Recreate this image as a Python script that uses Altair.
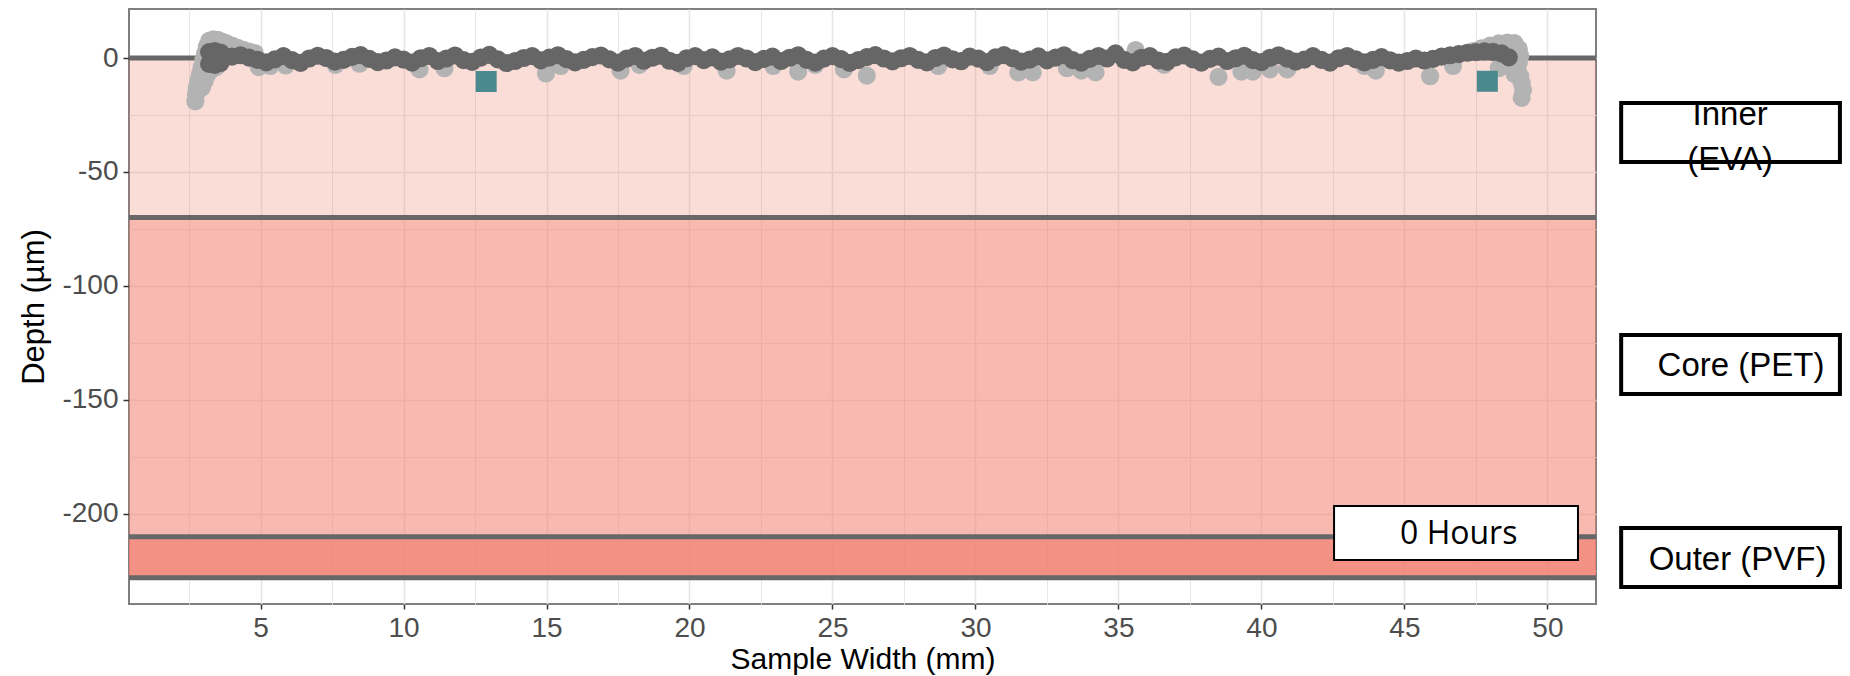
import altair as alt
import pandas as pd

# ---------------- data ----------------
x_major = [5, 10, 15, 20, 25, 30, 35, 40, 45, 50]
x_minor = [2.5, 7.5, 12.5, 17.5, 22.5, 27.5, 32.5, 37.5, 42.5, 47.5]
y_major = [0, -50, -100, -150, -200]
y_minor = [-25, -75, -125, -175, -225]

layer_top = [0, -70, -210]
layer_bottom = [-70, -210, -228]
layer_alpha = [0.27, 0.55, 0.86]
boundary_depth = [0, -70, -210, -228]

dark_x = [3.2, 3.2, 3.4, 3.4, 3.6, 3.6,
          4.0, 4.3, 4.6, 4.9, 5.2, 5.5, 5.8, 6.1, 6.4, 6.7,
          7.0, 7.3, 7.6, 7.9, 8.2, 8.5, 8.8, 9.1, 9.4, 9.7,
          10.0, 10.3, 10.6, 10.9, 11.2, 11.5, 11.8, 12.1, 12.4, 12.7,
          13.0, 13.3, 13.6, 13.9, 14.2, 14.5, 14.8, 15.1, 15.4, 15.7,
          16.0, 16.3, 16.6, 16.9, 17.2, 17.5, 17.8, 18.1, 18.4, 18.7,
          19.0, 19.3, 19.6, 19.9, 20.2, 20.5, 20.8, 21.1, 21.4, 21.7,
          22.0, 22.3, 22.6, 22.9, 23.2, 23.5, 23.8, 24.1, 24.4, 24.7,
          25.0, 25.3, 25.6, 25.9, 26.2, 26.5, 26.8, 27.1, 27.4, 27.7,
          28.0, 28.3, 28.6, 28.9, 29.2, 29.5, 29.8, 30.1, 30.4, 30.7,
          31.0, 31.3, 31.6, 31.9, 32.2, 32.5, 32.8, 33.1, 33.4, 33.7,
          34.0, 34.3, 34.6, 34.9, 35.2, 35.5, 35.8, 36.1, 36.4, 36.7,
          37.0, 37.3, 37.6, 37.9, 38.2, 38.5, 38.8, 39.1, 39.4, 39.7,
          40.0, 40.3, 40.6, 40.9, 41.2, 41.5, 41.8, 42.1, 42.4, 42.7,
          43.0, 43.3, 43.6, 43.9, 44.2, 44.5, 44.8, 45.1, 45.4, 45.7,
          46.0, 46.3, 46.6, 46.9, 47.2, 47.5, 47.8, 48.1, 48.4, 48.65]
dark_y = [2.6, -2.6, 3.0, -3.0, 2.4, -2.2,
          0.6, 1.2, 0.2, -0.8, -1.9, -0.6, 0.8, -0.9, -2.1, -0.2,
          1.0, 0.0, -1.6, -0.8, 0.5, 1.3, -0.4, -1.8, -1.1, 0.3,
          -0.7, -2.0, -0.1, 0.9, -1.3, -0.2, 1.1, -0.9, -1.7, 0.2,
          1.4, -0.6, -2.2, -1.3, 0.0, 0.8, -1.0, 0.2, 1.2, -0.5,
          -1.9, -0.8, 0.4, 1.1, -0.6, -2.0, -0.3, 0.9, -1.2, 0.1,
          1.0, -1.2, -2.1, -0.1, 0.8, -0.9, 0.3, -1.6, -0.6, 0.9,
          -0.2, -1.8, -0.4, 0.6, -1.3, 0.1, 1.2, -0.8, -2.0, -0.3,
          0.8, -0.5, -2.1, -0.9, 0.4, 1.3, -0.2, -1.5, -0.1, 0.9,
          -0.8, -1.9, 0.0, 1.1, -0.6, -1.4, 0.6, -0.3, -1.8, 0.3,
          1.3, -0.1, -1.6, -0.7, 0.7, -1.0, 0.2, 1.2, -0.9, -2.0,
          -0.4, 0.9, -0.2, 2.0, -0.8, -1.9, 0.1, 0.8, -1.1, -1.7,
          0.3, 1.1, -0.6, -2.0, -0.4, 0.6, -1.3, -0.1, 1.0, -0.9,
          -1.8, 0.1, 1.2, -0.3, -1.6, -0.7, 0.8, -0.8, -2.0, -0.1,
          0.9, -0.6, -1.9, -0.8, 0.4, -1.0, -2.0, -1.3, -0.2, -1.1,
          -0.4, 0.6, 1.2, 1.7, 2.3, 2.6, 2.9, 2.7, 2.0, 0.3]

light_x = [2.72, 2.74, 2.77, 2.82, 2.88, 2.94, 3.00, 3.06, 3.12, 3.20, 3.35, 3.50,
           3.65, 3.80, 4.00, 4.20, 4.40, 4.60, 4.80, 2.95, 3.05, 3.15, 3.30, 3.45,
           4.94, 5.34, 5.88, 7.62, 8.46, 10.56, 11.43, 14.98, 15.50, 17.59, 18.25,
           19.80, 21.30, 22.93, 23.80, 24.40, 25.40, 26.20, 28.70, 30.50, 31.50,
           32.00, 33.20, 33.70, 34.20, 35.60, 36.60, 38.50, 39.30, 39.70, 40.30,
           40.90, 43.60, 44.00, 45.90, 46.70, 48.30,
           47.40, 47.70, 48.00, 48.30, 48.60, 48.85, 49.00, 49.05, 49.00, 48.95,
           49.05, 49.10, 49.15, 49.10, 48.80, 48.85]
light_y = [-19.0, -16.0, -13.0, -10.0, -7.0, -4.0, -1.0, 2.0, 5.0, 7.5, 8.2, 8.0,
           7.2, 6.5, 5.5, 4.5, 3.6, 2.8, 2.2, -13.0, -10.0, -7.0, -5.0, -4.0,
           -4.0, -3.5, -3.3, -3.0, -2.5, -5.0, -4.5, -6.8, -3.5, -5.5, -3.0,
           -3.5, -5.5, -3.5, -6.0, -3.0, -5.0, -7.7, -3.5, -3.5, -6.3,
           -6.3, -4.5, -5.5, -6.3, 3.5, -3.0, -8.3, -6.0, -6.0, -5.0,
           -5.0, -3.5, -5.5, -8.0, -3.5, -4.5,
           3.0, 4.3, 5.5, 6.4, 6.8, 6.5, 4.0, 1.0, -2.0, -5.0,
           -8.0, -11.0, -14.0, -17.5, -4.0, -7.0]

marker_x = [12.89, 47.9]
marker_y = [-10.3, -10.2]

side_labels = ["Inner\n(EVA)", "Core (PET)", "Outer (PVF)"]
side_box_top = [-19.7, -121.5, -206.2]
side_box_bottom = [-45.6, -147.4, -232.0]
side_box_left = [52.58, 52.58, 52.58]
side_box_right = [60.23, 60.23, 60.23]
side_text_x = [56.39, 56.77, 56.65]
side_text_y = [-25.0, -135.1, -220.2]

hours_label = ["0 Hours"]
hours_box_x = [42.54, 51.07]
hours_box_y = [-196.5, -220.2]
hours_text_x = [46.9]
hours_text_y = [-208.6]

# ---------------- chart ----------------
W, H = 1467, 595
xs = alt.Scale(domain=[0.4, 51.7], nice=False, zero=False)
ys = alt.Scale(domain=[-239.5, 21.5], nice=False, zero=False)
FONT = "Liberation Sans"
GRID = "#E6E6E6"
PT = 330

x_axis = alt.Axis(orient="bottom", values=x_major, labelExpr="datum.value + ''",
                  labelFontSize=28, labelColor="#4D4D4D", labelFont=FONT,
                  tickSize=5, tickColor="#333333", tickWidth=1.5, labelPadding=5,
                  domain=False, grid=True, gridColor=GRID, gridWidth=1.6,
                  title="Sample Width (mm)", titleFontSize=30, titleFont=FONT,
                  titleFontWeight="normal", titleColor="#000000", titlePadding=2)
y_axis = alt.Axis(orient="left", values=y_major, labelExpr="datum.value + ''",
                  labelFontSize=28, labelColor="#4D4D4D", labelFont=FONT,
                  tickSize=6, tickColor="#333333", tickWidth=1.5, labelPadding=5,
                  domain=False, grid=True, gridColor=GRID, gridWidth=1.6,
                  title="Depth (µm)", titleFontSize=31, titleFont=FONT,
                  titleFontWeight="normal", titleColor="#000000", titlePadding=11)
x_minor_axis = alt.Axis(orient="top", values=x_minor, labels=False, ticks=False,
                        domain=False, grid=True, gridColor=GRID, gridWidth=1.0, title=None)
y_minor_axis = alt.Axis(orient="right", values=y_minor, labels=False, ticks=False,
                        domain=False, grid=True, gridColor=GRID, gridWidth=1.0, title=None)

df_layers = pd.DataFrame({"top": layer_top, "bottom": layer_bottom, "a": layer_alpha})
df_bound = pd.DataFrame({"d": boundary_depth})
df_dark = pd.DataFrame({"x": dark_x, "y": dark_y})
df_light = pd.DataFrame({"x": light_x, "y": light_y})
df_mark = pd.DataFrame({"x": marker_x, "y": marker_y})
df_side = pd.DataFrame({"label": side_labels, "t": side_box_top, "b": side_box_bottom,
                        "l": side_box_left, "r": side_box_right,
                        "tx": side_text_x, "ty": side_text_y})
df_hours = pd.DataFrame({"label": hours_label, "x1": [hours_box_x[0]], "x2": [hours_box_x[1]],
                         "y1": [hours_box_y[0]], "y2": [hours_box_y[1]],
                         "tx": hours_text_x, "ty": hours_text_y})

fills = alt.Chart(df_layers).mark_rect(color="#F18070").encode(
    y=alt.Y("top:Q", scale=ys, axis=y_minor_axis),
    y2="bottom:Q",
    opacity=alt.Opacity("a:Q", scale=None, legend=None),
)
rules = alt.Chart(df_bound).mark_rule(color="#676767", strokeWidth=5).encode(
    y=alt.Y("d:Q", scale=ys, axis=None)
)
light = alt.Chart(df_light).mark_circle(size=PT, color="#B3B3B3", opacity=1).encode(
    x=alt.X("x:Q", scale=xs, axis=x_axis),
    y=alt.Y("y:Q", scale=ys, axis=y_axis),
)
dark = alt.Chart(df_dark).mark_circle(size=PT, color="#666666", opacity=1).encode(
    x=alt.X("x:Q", scale=xs, axis=None),
    y=alt.Y("y:Q", scale=ys, axis=None),
)
markers = alt.Chart(df_mark).mark_square(size=441, color="#4A8A8F", opacity=1).encode(
    x=alt.X("x:Q", scale=xs, axis=x_minor_axis),
    y=alt.Y("y:Q", scale=ys, axis=None),
)
hours_box = alt.Chart(df_hours).mark_rect(fill="white", stroke="black", strokeWidth=2).encode(
    x=alt.X("x1:Q", scale=xs, axis=None), x2="x2:Q",
    y=alt.Y("y1:Q", scale=ys, axis=None), y2="y2:Q",
)
hours_text = alt.Chart(df_hours).mark_text(font="Open Sans", fontSize=32, color="black",
                                           align="center", baseline="middle").encode(
    x=alt.X("tx:Q", scale=xs, axis=None),
    y=alt.Y("ty:Q", scale=ys, axis=None),
    text="label:N",
)
side_box = alt.Chart(df_side).mark_rect(fill="white", stroke="black", strokeWidth=4).encode(
    x=alt.X("l:Q", scale=xs, axis=None), x2="r:Q",
    y=alt.Y("t:Q", scale=ys, axis=None), y2="b:Q",
)
side_text = alt.Chart(df_side).mark_text(font=FONT, fontSize=33, color="black",
                                         align="center", baseline="middle",
                                         lineBreak="\n", lineHeight=45).encode(
    x=alt.X("tx:Q", scale=xs, axis=None),
    y=alt.Y("ty:Q", scale=ys, axis=None),
    text="label:N",
)

chart = alt.layer(
    fills, rules, light, dark, markers, hours_box, hours_text, side_box, side_text
).properties(
    width=W, height=H,
    autosize=alt.AutoSizeParams(type="none"),
    padding={"left": 129, "top": 9, "right": 254, "bottom": 72},
    background="white",
).configure_view(stroke="#7F7F7F", strokeWidth=2)

chart.save("out.html", embed_options={"renderer": "svg", "actions": False})
